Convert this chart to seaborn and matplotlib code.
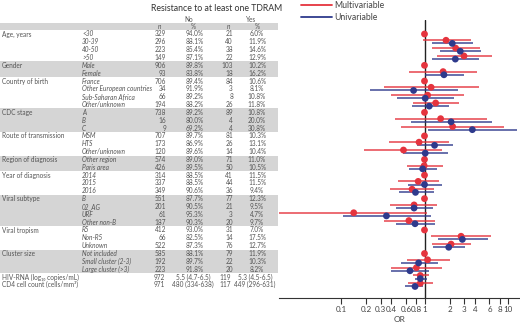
import numpy as np
import pandas as pd
import matplotlib
matplotlib.use("Agg")
import matplotlib.pyplot as plt
import seaborn as sns
from matplotlib.lines import Line2D
from matplotlib.ticker import NullLocator

sns.set_style("white")
plt.rcParams['font.family'] = ['Lato', 'DejaVu Sans']

nan = np.nan

# ---------------- table data ----------------
group_labels = ["Age, years", "Gender", "Country of birth", "CDC stage",
                "Route of transmission", "Region of diagnosis", "Year of diagnosis",
                "Viral subtype", "Viral tropism", "Cluster size"]
group_sizes = [4, 2, 4, 3, 3, 2, 3, 4, 3, 3]
shaded_groups = [False, True, False, True, False, True, False, True, False, True]
sub_labels = ["<30", "30-39", "40-50", ">50",
              "Male", "Female",
              "France", "Other European countries", "Sub-Saharan Africa", "Other/unknown",
              "A", "B", "C",
              "MSM", "HTS", "Other/unknown",
              "Other region", "Paris area",
              "2014", "2015", "2016",
              "B", "02_AG", "URF", "Other non-B",
              "R5", "Non-R5", "Unknown",
              "Not included", "Small cluster (2-3)", "Large cluster (>3)"]
n_no = [329, 296, 223, 149, 906, 93, 706, 34, 66, 194, 738, 16, 9, 707, 173, 120,
        574, 426, 314, 337, 349, 551, 201, 61, 187, 412, 66, 522, 585, 192, 223]
pct_no = ["94.0%", "88.1%", "85.4%", "87.1%", "89.8%", "83.8%", "89.4%", "91.9%",
          "89.2%", "88.2%", "89.2%", "80.0%", "69.2%", "89.7%", "86.9%", "89.6%",
          "89.0%", "89.5%", "88.5%", "88.5%", "90.6%", "87.7%", "90.5%", "95.3%",
          "90.3%", "93.0%", "82.5%", "87.3%", "88.1%", "89.7%", "91.8%"]
n_yes = [21, 40, 38, 22, 103, 18, 84, 3, 8, 26, 89, 4, 4, 81, 26, 14,
         71, 50, 41, 44, 36, 77, 21, 3, 20, 31, 14, 76, 79, 22, 20]
pct_yes = ["6.0%", "11.9%", "14.6%", "12.9%", "10.2%", "16.2%", "10.6%", "8.1%",
           "10.8%", "11.8%", "10.8%", "20.0%", "30.8%", "10.3%", "13.1%", "10.4%",
           "11.0%", "10.5%", "11.5%", "11.5%", "9.4%", "12.3%", "9.5%", "4.7%",
           "9.7%", "7.0%", "17.5%", "12.7%", "11.9%", "10.3%", "8.2%"]
cont_labels = ["HIV-RNA (log\u2081\u2080 copies/mL)", "CD4 cell count (cells/mm\u00b3)"]
cont_n_no = [972, 971]
cont_val_no = ["5.5 (4.7-6.5)", "480 (334-638)"]
cont_n_yes = [119, 117]
cont_val_yes = ["5.3 (4.5-6.5)", "449 (296-631)"]

# ---------------- odds ratios (33 rows, NaN = reference only) ----------------
multi_or = [1, 1.81, 2.36, 2.97, 1, 1.67, 1, 1.20, 1.09, 1.36, 1, 1.56, 2.17, 1, 0.86,
            0.56, 1, 0.99, 1, 0.84, 0.71, 1, 0.75, 0.142, 0.65, 1, 2.74, 2.08, 1, 1.09,
            0.80, 0.89, 0.89]
multi_lo = [nan, 0.95, 1.23, 1.41, nan, 0.66, nan, 0.33, 0.40, 0.73, nan, 0.44, 0.53,
            nan, 0.38, 0.19, nan, 0.62, nan, 0.48, 0.39, nan, 0.39, 0.017, 0.33, nan,
            1.20, 1.23, nan, 0.62, 0.40, 0.72, 0.64]
multi_hi = [nan, 3.57, 4.66, 6.38, nan, 4.22, nan, 4.49, 3.00, 2.57, nan, 5.65, 8.96,
            nan, 1.95, 1.64, nan, 1.65, nan, 1.49, 1.30, nan, 1.42, 1.06, 1.32, nan,
            6.26, 3.64, nan, 2.02, 1.63, 1.12, 1.25]
uni_or = [nan, 2.15, 2.68, 2.34, nan, 1.71, nan, 0.74, 1.02, 1.14, nan, 2.08, 3.74,
          nan, 1.32, 1.02, nan, 0.95, nan, 1.00, 0.78, nan, 0.75, 0.35, 0.77, nan,
          2.84, 1.95, nan, 0.85, 0.67, 0.89, 0.77]
uni_lo = [nan, 1.24, 1.53, 1.24, nan, 1.02, nan, 0.22, 0.47, 0.71, nan, 0.68, 1.11,
          nan, 0.81, 0.56, nan, 0.65, nan, 0.64, 0.50, nan, 0.45, 0.107, 0.46, nan,
          1.44, 1.26, nan, 0.52, 0.40, 0.76, 0.59]
uni_hi = [nan, 3.78, 4.80, 4.49, nan, 3.00, nan, 2.54, 2.26, 1.95, nan, 6.49, 12.7,
          nan, 2.17, 1.89, nan, 1.42, nan, 1.62, 1.30, nan, 1.27, 1.19, 1.32, nan,
          5.76, 3.05, nan, 1.44, 1.13, 1.06, 0.97]

x_ticks = [0.1, 0.2, 0.3, 0.4, 0.6, 0.8, 1, 2, 3, 4, 6, 8, 10]
x_ticklabels = ["0.1", "0.2", "0.3", "0.4", "0.6", "0.8", "1", "2", "3", "4", "6", "8", "10"]

RED = "#E5343E"
BLUE = "#2E3A8C"
TXT = "#555555"
GRAY = "#D5D5D5"

W, H = 520, 327
fig = plt.figure(figsize=(W / 100, H / 100), dpi=100)

def fx(px):
    return px / W

def fy(py):
    return 1 - py / H

ax_top, ax_bot = 20, 298
row0, rowh = 34.0, 7.84
ylim = ((ax_bot - row0) / rowh, (ax_top - row0) / rowh)

ax = fig.add_axes([fx(279), fy(ax_bot), fx(520) - fx(279), fy(ax_top) - fy(ax_bot)])
tab = fig.add_axes([0, fy(ax_bot), fx(279), fy(ax_top) - fy(ax_bot)], sharey=ax)

# ---------------- forest plot ----------------
n_rows = len(multi_or)
rows = np.arange(n_rows)
is_ref = np.isnan(np.array(multi_lo))
red_y = np.where(is_ref, rows, rows - 0.2)
blue_y = rows + 0.2

df = pd.concat([
    pd.DataFrame({"y": red_y, "OR": multi_or, "lo": multi_lo, "hi": multi_hi,
                  "model": "Multivariable"}),
    pd.DataFrame({"y": blue_y, "OR": uni_or, "lo": uni_lo, "hi": uni_hi,
                  "model": "Univariable"}),
], ignore_index=True)

ax.axvline(1, color="#222222", lw=1.0, zorder=1)
for model, col in [("Multivariable", RED), ("Univariable", BLUE)]:
    d = df[(df.model == model) & df.lo.notna()]
    ax.hlines(d.y, d.lo, d.hi, colors=col, lw=1.2, alpha=0.85, zorder=2)
sns.scatterplot(data=df.dropna(subset=["OR"]), x="OR", y="y", hue="model",
                palette={"Multivariable": RED, "Univariable": BLUE},
                s=24, edgecolor="none", legend=False, ax=ax, zorder=3)
ax.set_xscale("log")
ax.set_xlim(10 ** ((279 - 424.5) / 83.5), 10 ** ((520 - 424.5) / 83.5))
ax.set_ylim(*ylim)
ax.set_xticks(x_ticks)
ax.set_xticklabels(x_ticklabels)
ax.xaxis.set_minor_locator(NullLocator())
ax.tick_params(axis="x", direction="out", length=4, width=0.8, colors="#333333",
               labelsize=5.8, labelcolor="#444444", pad=2, bottom=True)
ax.set_yticks([])
ax.set_xlabel("OR", fontsize=6.0, color="#444444", labelpad=2)
ax.set_ylabel("")
for s in ["top", "left", "right"]:
    ax.spines[s].set_visible(False)
ax.spines["bottom"].set_color("#333333")
ax.spines["bottom"].set_linewidth(0.8)
ax.patch.set_alpha(0)

handles = [Line2D([], [], color=RED, lw=1.3), Line2D([], [], color=BLUE, lw=1.3)]
fig.legend(handles, ["Multivariable", "Univariable"], loc="upper left",
           bbox_to_anchor=(fx(295), fy(-5)), frameon=False, fontsize=6.2,
           handlelength=3.6, handletextpad=0.3, labelspacing=0.3, borderpad=0.2,
           labelcolor="#444444")

# ---------------- table ----------------
tab.set_xlim(0, 279)
tab.axis("off")
fs = 4.7
tab.axhspan(-1.4, -0.5, xmin=0, xmax=278 / 279, color=GRAY, lw=0, zorder=0)
start = 0
for g, n, sh in zip(group_labels, group_sizes, shaded_groups):
    if sh:
        tab.axhspan(start - 0.5, start + n - 0.5, xmin=0, xmax=278 / 279,
                    color=GRAY, lw=0, zorder=0)
    tab.text(2, start, g, fontsize=fs, color=TXT, va="center", ha="left")
    start += n

for i, (sl, a, b, c, d) in enumerate(zip(sub_labels, n_no, pct_no, n_yes, pct_yes)):
    tab.text(82, i, sl, fontsize=fs, color=TXT, va="center", ha="left", style="italic")
    tab.text(166, i, str(a), fontsize=fs, color=TXT, va="center", ha="right")
    tab.text(195, i, b, fontsize=fs, color=TXT, va="center", ha="center")
    tab.text(233, i, str(c), fontsize=fs, color=TXT, va="center", ha="right")
    tab.text(257, i, d, fontsize=fs, color=TXT, va="center", ha="center")

for k, (lab, a, b, c, d) in enumerate(zip(cont_labels, cont_n_no, cont_val_no,
                                          cont_n_yes, cont_val_yes)):
    i = len(sub_labels) + k
    tab.text(2, i, lab, fontsize=fs, color=TXT, va="center", ha="left")
    tab.text(165, i, str(a), fontsize=fs, color=TXT, va="center", ha="right")
    tab.text(193, i, b, fontsize=fs, color=TXT, va="center", ha="center")
    tab.text(231, i, str(c), fontsize=fs, color=TXT, va="center", ha="right")
    tab.text(255, i, d, fontsize=fs, color=TXT, va="center", ha="center")

hy = -0.95
for xpos, t in [(160, "n"), (193, "%"), (229, "n"), (257, "%")]:
    tab.text(xpos, hy, t, fontsize=fs, color=TXT, va="center", ha="center",
             style="italic" if t == "n" else "normal")
tab.text(189, -1.8, "No", fontsize=fs, color=TXT, va="center", ha="center")
tab.text(251, -1.8, "Yes", fontsize=fs, color=TXT, va="center", ha="center")
tab.text(217, -3.3, "Resistance to at least one TDRAM", fontsize=6.3, color="#333333",
         va="center", ha="center")

fig.savefig("out.png", dpi=100)
